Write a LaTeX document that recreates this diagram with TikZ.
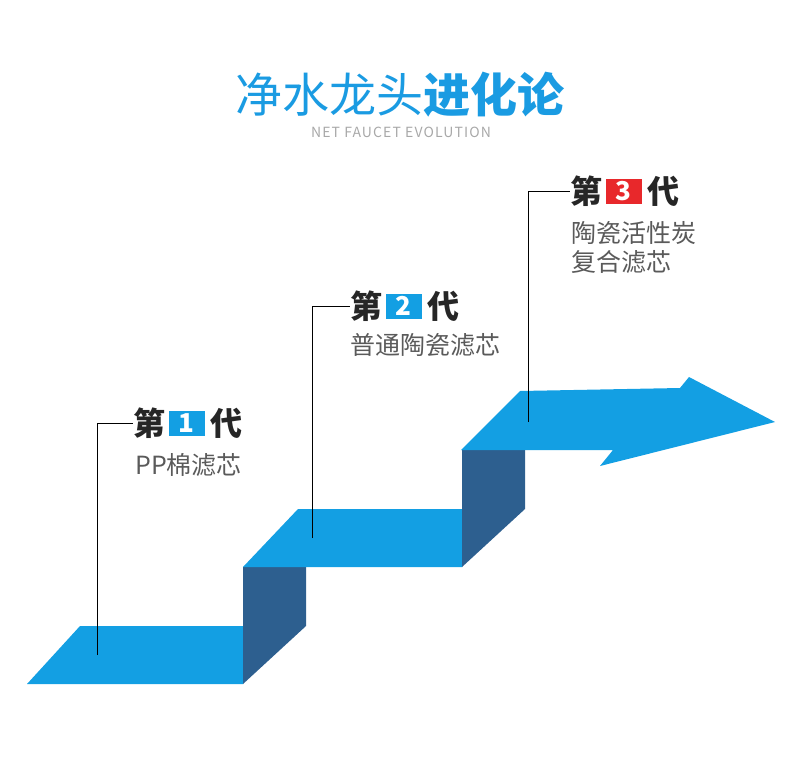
\documentclass[tikz,border=0pt]{standalone}
\usepackage{fontspec}
\setmainfont{Noto Sans CJK SC}
\usetikzlibrary{positioning}

\definecolor{stepblue}{HTML}{139FE3}
\definecolor{riserblue}{HTML}{2D5F8F}
\definecolor{titleblue}{HTML}{1A9BE2}
\definecolor{numred}{HTML}{E8282B}
\definecolor{descgray}{HTML}{5A5A5A}
\definecolor{subgray}{HTML}{A8A8A8}

\tikzset{
	gen/.style={font=\fontsize{32}{32}\selectfont\bfseries, text=black!85, inner sep=0pt, anchor=west},
	numbox/.style={fill=#1, text=white, font=\fontsize{26}{26}\selectfont\bfseries,
		minimum width=36pt, minimum height=25pt, inner sep=0pt},
	desc/.style={font=\fontsize{25}{29}\selectfont, text=descgray, inner sep=0pt, anchor=west, align=left},
	leader/.style={draw=black, line width=1pt}
}

\begin{document}
\begin{tikzpicture}[x=1pt,y=-1pt]
		\useasboundingbox (0,0) rectangle (790,782);
		%% Title
		\node[text=titleblue, font=\fontsize{47}{47}\selectfont] (title) at (400,95)
			{净水龙头\textbf{进化论}};
		\node[text=subgray, font=\fontsize{14}{14}\selectfont\addfontfeature{LetterSpace=8}] (subtitle) at (401,132)
			{NET FAUCET EVOLUTION};
		%% The Steps
		\fill[stepblue] (27,684) -- (243,684) -- (243,626) -- (80,626) -- cycle; % step 1
		\fill[riserblue] (243,684) -- (306,626) -- (306,567) -- (243,567) -- cycle;
		\fill[stepblue] (243,567) -- (462,567) -- (462,509) -- (298,509) -- cycle; % step 2
		\fill[riserblue] (462,567) -- (525,509) -- (525,450) -- (462,450) -- cycle;
		%% The Arrow
		\fill[stepblue] (461,450) -- (520,391) -- (680,388) -- (689,377)
			-- (775,422) -- (600,466) -- (613,450) -- cycle;
		%% Foot points of the leaders
		\path
			(97,655)  coordinate (f1)
			(312,538) coordinate (f2)
			(528,422) coordinate (f3);
		%% Generation 1
		\node[gen] (d1) at (133,423) {第};
		\node[numbox=stepblue, right=3pt of d1] (n1) {1};
		\node[gen, right=5pt of n1] (r1) {代};
		\node[desc] (t1) at (135,465) {PP棉滤芯};
		%% Generation 2
		\node[gen] (d2) at (350,306) {第};
		\node[numbox=stepblue, right=3pt of d2] (n2) {2};
		\node[gen, right=5pt of n2] (r2) {代};
		\node[desc] (t2) at (350,345) {普通陶瓷滤芯};
		%% Generation 3
		\node[gen] (d3) at (570,191) {第};
		\node[numbox=numred, right=3pt of d3] (n3) {3};
		\node[gen, right=5pt of n3] (r3) {代};
		\node[desc] (t3) at (571,248) {陶瓷活性炭\\复合滤芯};
		%% Leaders
		\draw[leader] (f1) |- (d1.west);
		\draw[leader] (f2) |- (d2.west);
		\draw[leader] (f3) |- (d3.west);
\end{tikzpicture}
\end{document}
